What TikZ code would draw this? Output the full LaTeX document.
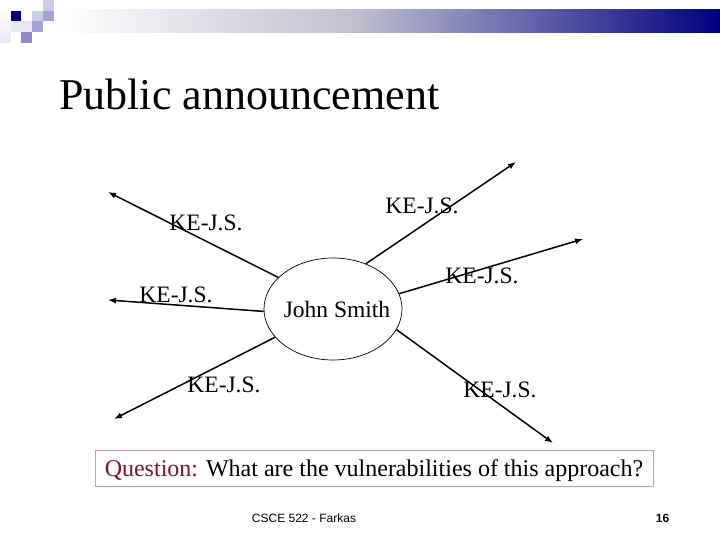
\documentclass[tikz,border=0pt]{standalone}
\usepackage{fontspec}
\setmainfont{Liberation Serif}
\setsansfont{Liberation Sans}
\usetikzlibrary{shapes.geometric,arrows.meta}
\definecolor{navy}{RGB}{0,0,128}
\definecolor{barmid}{RGB}{190,190,208}
\definecolor{sqlight}{RGB}{204,204,228}
\definecolor{sqmid}{RGB}{164,164,212}
\definecolor{sqdark}{RGB}{140,140,200}
\definecolor{sqfaint}{RGB}{232,232,244}
\definecolor{qred}{RGB}{128,16,48}
\definecolor{boxline}{RGB}{184,160,192}
\begin{document}
\begin{tikzpicture}[x=1pt,y=-1pt,
    key/.style={font=\fontsize{23.5}{28}\selectfont, inner sep=0pt},
    send/.style={-{Latex[length=8pt,width=6pt]}, line width=1.5pt}]
  \useasboundingbox (0,0) rectangle (720,540);
  % header bar and squares
  \shade[left color=white, right color=barmid] (54,10) rectangle (360,33);
  \shade[left color=barmid, right color=navy] (359.5,10) rectangle (720,33);
  \shade[top color=white, bottom color=sqfaint] (0,10) rectangle (10.7,43);
  \fill[sqfaint] (10.7,21.4) rectangle (32.1,32.1);
  \foreach \c/\col/\row in {navy/1/1, sqlight/3/1, sqmid/4/1, sqlight/4/0, sqmid/3/2, sqdark/2/3}
    \fill[\c] (\col*10.7,\row*10.7) rectangle ++(10.7,10.7);
  \node[anchor=base west, inner sep=0pt, font=\fontsize{44}{52}\selectfont] (title) at (59,110) {Public announcement};
  % John Smith and his key
  \node[ellipse, draw, line width=0.7pt, minimum width=138pt, minimum height=102pt, inner sep=0pt,
        label={[key, xshift=4pt]center:John Smith}] (js) at (333,309) {};
  \coordinate (tul) at (108,192);
  \coordinate (tl) at (108,300);
  \coordinate (tur) at (516,162);
  \coordinate (tr) at (583,239);
  \coordinate (tll) at (114,419);
  \coordinate (tlr) at (553,443);
  \draw[send] (js.150) -- (tul);
  \draw[send] (js.182) -- (tl);
  \draw[send] (js.54) -- (tur);
  \draw[send] (js.13) -- (tr);
  \draw[send] (js.206) -- (tll);
  \draw[send] (js.342) -- (tlr);
  \node[key] (kul) at (206,223) {KE-J.S.};
  \node[key] (kl) at (176,295) {KE-J.S.};
  \node[key] (kur) at (422,206) {KE-J.S.};
  \node[key] (kr) at (482,276) {KE-J.S.};
  \node[key] (kll) at (224,385) {KE-J.S.};
  \node[key] (klr) at (500,390) {KE-J.S.};
  % question and footer
  \node[draw=boxline, line width=0.8pt, minimum width=558pt, minimum height=36pt, inner sep=0pt,
        text height=17pt, text depth=1pt, font=\fontsize{24}{28}\selectfont] (quest) at (374,468)
    {\textcolor{qred}{Question:} What are the vulnerabilities of this approach?};
  \node[inner sep=0pt, font=\sffamily\fontsize{12}{14}\selectfont] (foot) at (304,518.5) {CSCE 522 - Farkas};
  \node[inner sep=0pt, font=\sffamily\bfseries\fontsize{12}{14}\selectfont] (page) at (662.5,518) {16};
\end{tikzpicture}
\end{document}
